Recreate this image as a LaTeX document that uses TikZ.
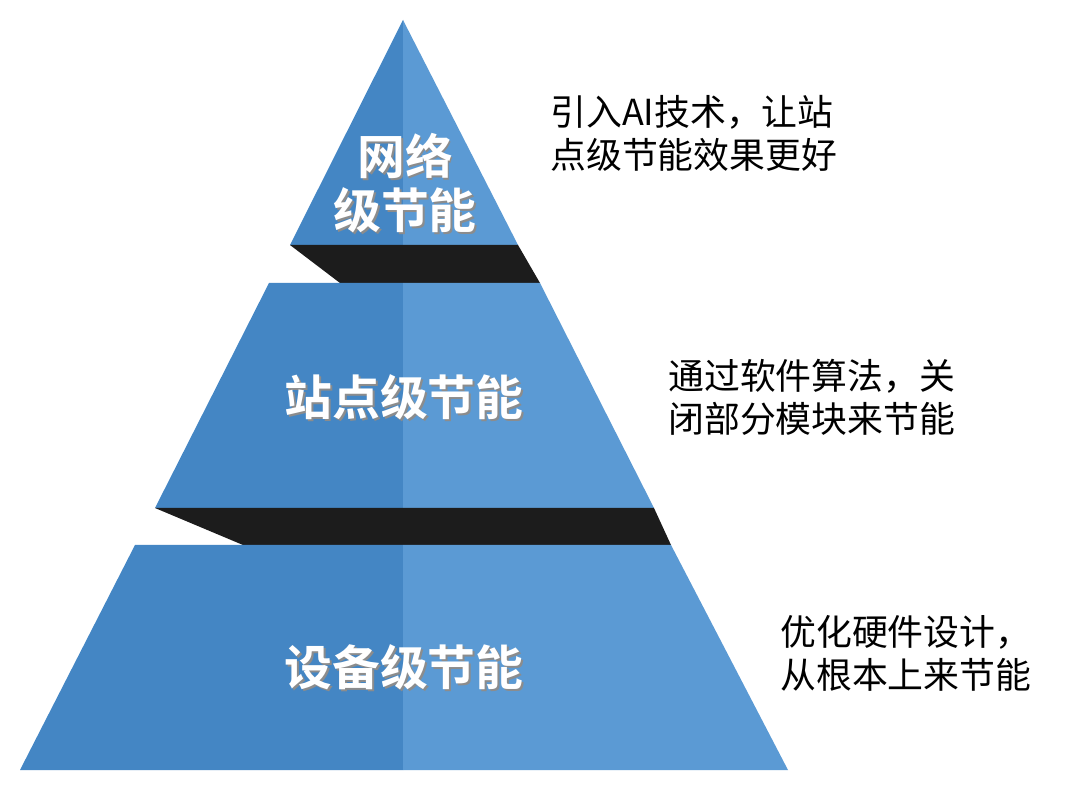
\documentclass[tikz,border=0pt]{standalone}
\usepackage{fontspec}
\newfontfamily\cjk[BoldFont={Noto Sans CJK SC Bold}]{Noto Sans CJK SC}
\usepackage{tikz}
\usetikzlibrary{positioning,calc}

\definecolor{darkblue}{RGB}{68,134,196}
\definecolor{lightblue}{RGB}{91,154,212}
\definecolor{band}{RGB}{28,28,28}

% white text with a soft drop shadow
\newcommand{\shadowed}[1]{\leavevmode\rlap{\kern1.4pt\raisebox{-1.4pt}{\textcolor{black!45}{#1}}}#1}

\tikzset{
  layertext/.style={text=white,font=\cjk\bfseries\fontsize{34}{38}\selectfont,align=center},
  note/.style={anchor=west,align=left,font=\cjk\fontsize{25.5}{30.5}\selectfont,inner sep=0pt}
}

\begin{document}
\begin{tikzpicture}[x=0.025cm,y=-0.025cm]
  \useasboundingbox (0,0) rectangle (1080,793);
  \fill[white] (0,0) rectangle (1080,793);

  % top layer
  \fill[darkblue] (403,20) -- (290,245) -- (403,245) -- cycle;
  \fill[lightblue] (403,20) -- (518,245) -- (403,245) -- cycle;
  \fill[band] (290,245) -- (518,245) -- (540,283) -- (340,283) -- cycle;

  % middle layer
  \fill[darkblue] (269,283) -- (403,283) -- (403,508) -- (155,508) -- cycle;
  \fill[lightblue] (403,283) -- (540,283) -- (654,508) -- (403,508) -- cycle;
  \fill[band] (155,508) -- (654,508) -- (671,545) -- (243,545) -- cycle;

  % bottom layer
  \fill[darkblue] (135,545) -- (403,545) -- (403,770) -- (20,770) -- cycle;
  \fill[lightblue] (403,545) -- (671,545) -- (788,770) -- (403,770) -- cycle;

  % labels
  \node[layertext] (net) at (405,184) {\shadowed{网络}\\\shadowed{级节能}};
  \node[layertext] (site) at (404,398) {\shadowed{站点级节能}};
  \node[layertext] (dev) at (404,668) {\shadowed{设备级节能}};

  \node[note] (netnote) at (550,133) {引入AI技术，让站\\点级节能效果更好};
  \node[note] (sitenote) at (668,397) {通过软件算法，关\\闭部分模块来节能};
  \node[note] (devnote) at (780,653) {优化硬件设计，\\从根本上来节能};
\end{tikzpicture}
\end{document}
